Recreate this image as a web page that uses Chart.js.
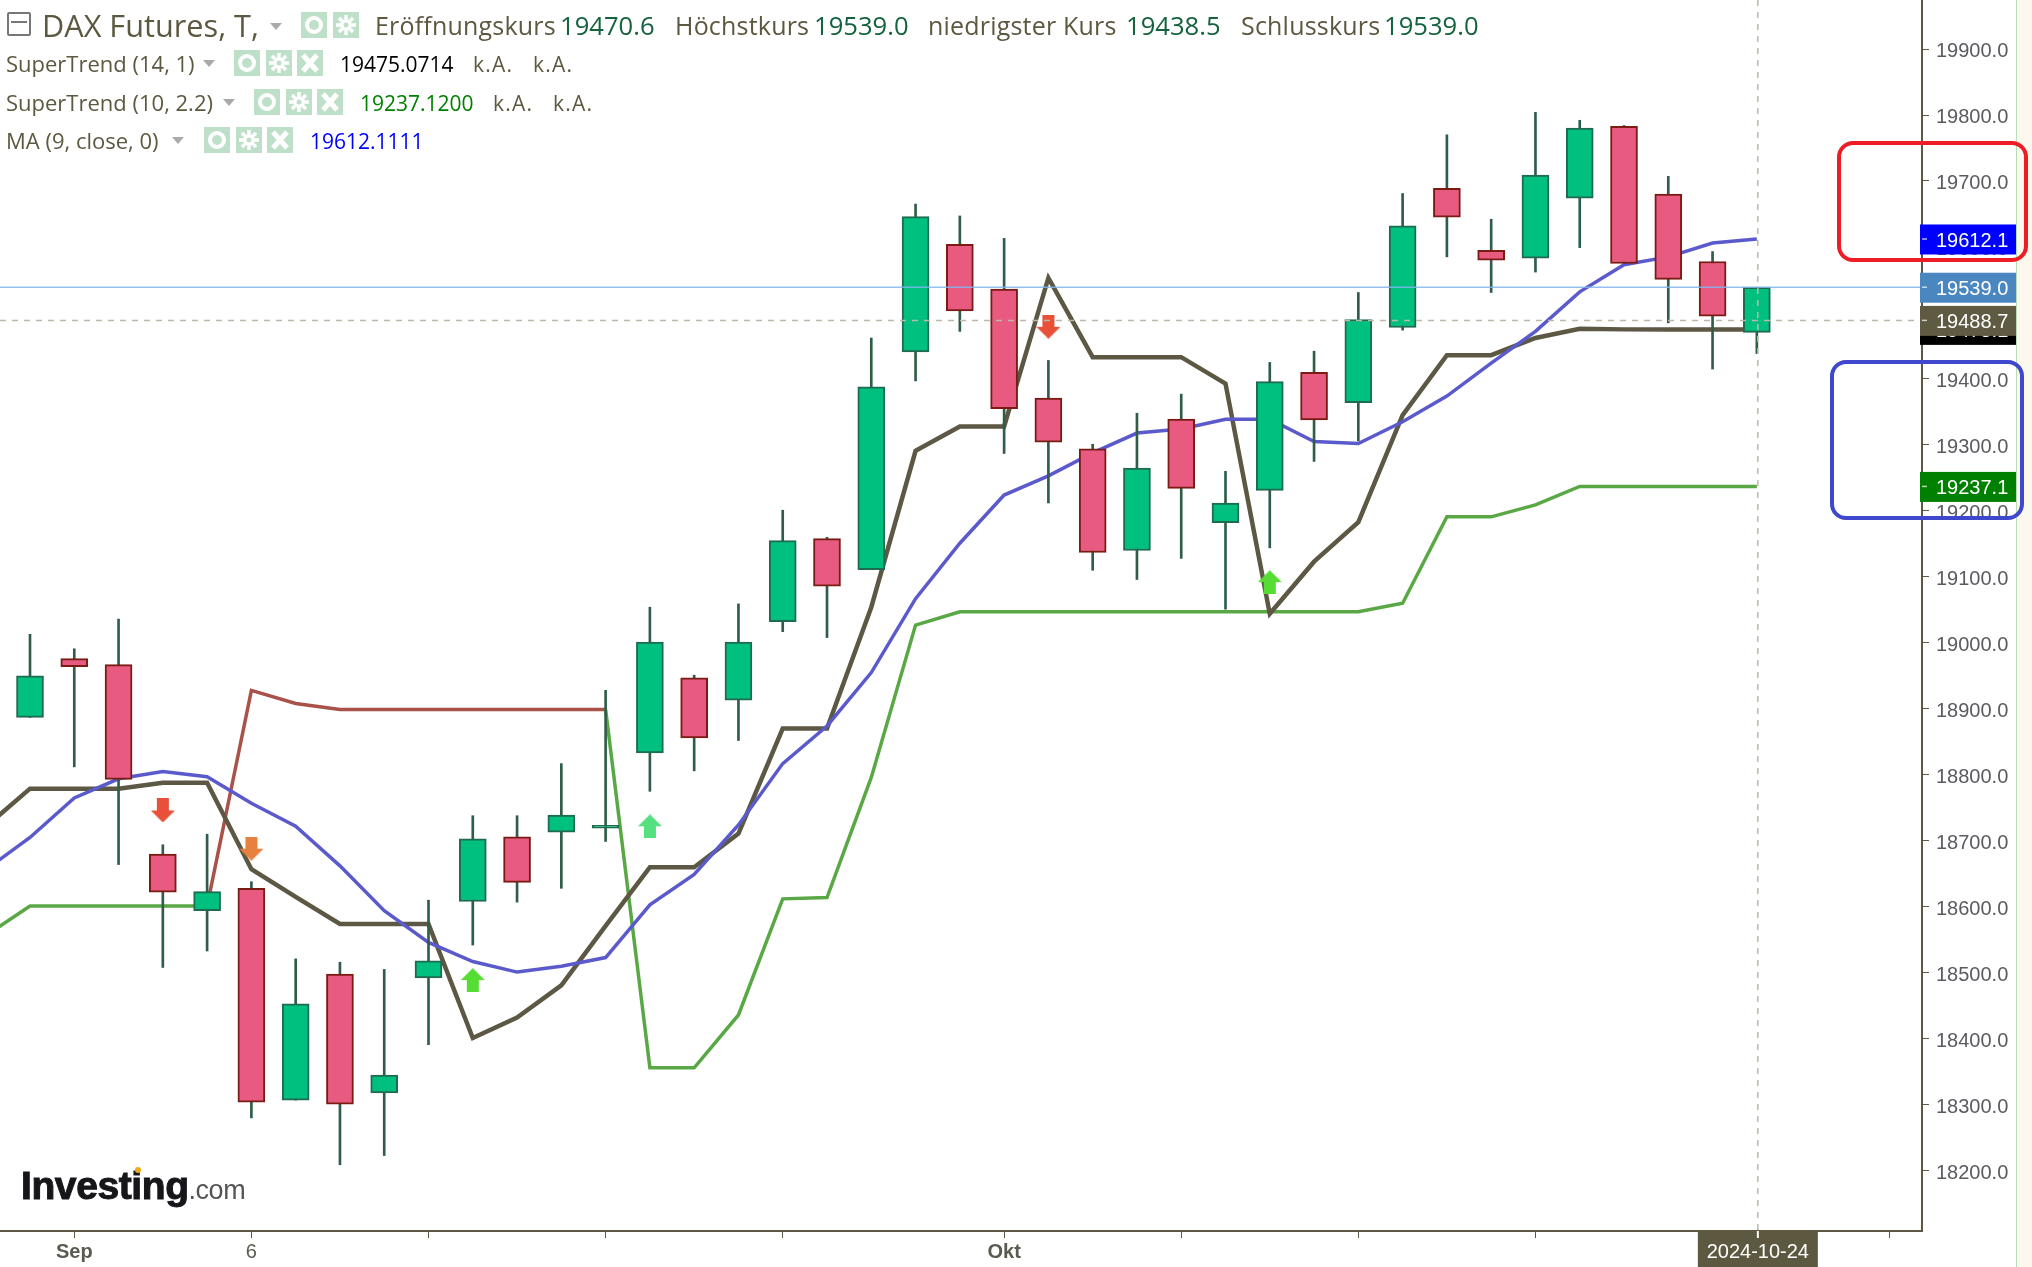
<!DOCTYPE html>
<html>
<head>
<meta charset="utf-8">
<title>DAX Futures</title>
<script src="https://cdn.jsdelivr.net/npm/chart.js@4"></script>
<style>
    html, body { margin: 0; padding: 0; background: #fff; overflow: hidden; }
    #wrap { position: relative; width: 2032px; height: 1267px; overflow: hidden; }
    canvas { position: absolute; left: 0; top: 0; }
    .t { position: absolute; white-space: nowrap; transform: translateY(-50%); font-family: "Open Sans", sans-serif; color: #5d5840; }
    .big { font-size: 25px; letter-spacing: 0.2px; }
    .val { font-size: 25.6px; letter-spacing: 0; color: #14633e; }
    .small { font-size: 22px; }
    .num { font-size: 21px; }
    .na { font-size: 21px; letter-spacing: 1.2px; }
    .arrow { position: absolute; width: 0; height: 0; border-left: 6px solid transparent; border-right: 6px solid transparent; border-top: 7px solid #aaa; }
    .icon { position: absolute; width: 26px; height: 26px; background: #bfe0c8; }
    .frame { position: absolute; border-style: solid; border-width: 4px; border-radius: 16px; box-sizing: border-box; }
</style>
</head>
<body>
<div id="wrap">
    <canvas id="chart" width="2032" height="1267"></canvas>

    <div style="position:absolute;left:2016px;top:0;width:16px;height:1267px;background:#fdf8ee;border-left:1px solid #b8dcb8;"></div>

    <div style="position:absolute;left:7px;top:12px;width:20px;height:20px;border:2px solid #777;border-radius:2px;"></div>
    <div style="position:absolute;left:11px;top:21px;width:16px;height:2px;background:#777;"></div>

    <span class="t" style="left:42px;top:25px;font-size:30.7px;">DAX Futures, T,</span>
    <div class="arrow" style="left:270px;top:23px;"></div>
    <span class="t big" style="left:375px;top:25px;">Eröffnungskurs</span>
    <span class="t val" style="left:560px;top:25px;">19470.6</span>
    <span class="t big" style="left:675px;top:25px;">Höchstkurs</span>
    <span class="t val" style="left:814px;top:25px;">19539.0</span>
    <span class="t big" style="left:928px;top:25px;">niedrigster Kurs</span>
    <span class="t val" style="left:1126px;top:25px;">19438.5</span>
    <span class="t big" style="left:1241px;top:25px;">Schlusskurs</span>
    <span class="t val" style="left:1384px;top:25px;">19539.0</span>

    <span class="t small" style="left:6px;top:63px;">SuperTrend (14, 1)</span>
    <div class="arrow" style="left:203px;top:60px;"></div>
    <span class="t num" style="left:340px;top:64px;color:#000;">19475.0714</span>
    <span class="t na" style="left:473px;top:64px;">k.A.</span>
    <span class="t na" style="left:533px;top:64px;">k.A.</span>

    <span class="t small" style="left:6px;top:102px;">SuperTrend (10, 2.2)</span>
    <div class="arrow" style="left:223px;top:99px;"></div>
    <span class="t num" style="left:360px;top:103px;color:#008000;">19237.1200</span>
    <span class="t na" style="left:493px;top:103px;">k.A.</span>
    <span class="t na" style="left:553px;top:103px;">k.A.</span>

    <span class="t small" style="left:6px;top:140px;">MA (9, close, 0)</span>
    <div class="arrow" style="left:172px;top:137px;"></div>
    <span class="t num" style="left:310px;top:141px;color:#0000ff;">19612.1111</span>

    <!-- Logo -->
    <span class="t" style="left:21px;top:1186px;font-family:'Liberation Sans',sans-serif;font-weight:bold;font-size:39px;letter-spacing:-0.4px;color:#15151a;-webkit-text-stroke:1px #15151a;">Investing<span style="font-weight:normal;font-size:27px;letter-spacing:-0.5px;color:#555;-webkit-text-stroke:0;">.com</span></span>
    <div style="position:absolute;left:135px;top:1167px;width:6px;height:6px;border-radius:3px;background:#f0a820;"></div>

    <!-- Hand-drawn markers on the screenshot -->
    <div class="frame" style="left:1837px;top:141px;width:191px;height:121px;border-color:#ee1c25;"></div>
    <div class="frame" style="left:1830px;top:360px;width:194px;height:160px;border-color:#3f48cc;"></div>
</div>

<script>
// Candles (index 0 is the first candle)
const opens  = [18887, 18976, 18967, 18680, 18594, 18628, 18307, 18498, 18318, 18492, 18608, 18706, 18713, 18719, 18833, 18947, 18913, 19032, 19158, 19111, 19441, 19604, 19536, 19371, 19294, 19140, 19339, 19182, 19231, 19410, 19364, 19478, 19689, 19595, 19583, 19674, 19783, 19680, 19578, 19470.6];
const highs  = [19013, 18991, 19036, 18694, 18710, 18638, 18521, 18516, 18505, 18610, 18738, 18738, 18817, 18928, 19054, 18951, 19059, 19201, 19160, 19462, 19665, 19647, 19613, 19428, 19301, 19348, 19377, 19260, 19425, 19442, 19531, 19681, 19770, 19642, 19804, 19792, 19784, 19707, 19593, 19539];
const lows   = [18887, 18812, 18664, 18508, 18533, 18280, 18307, 18209, 18223, 18391, 18542, 18607, 18628, 18699, 18775, 18806, 18852, 19017, 19008, 19111, 19397, 19472, 19287, 19212, 19110, 19096, 19128, 19051, 19144, 19275, 19306, 19474, 19585, 19531, 19562, 19599, 19575, 19485, 19415, 19438.5];
const closes = [18950, 18964, 18793, 18622, 18623, 18304, 18453, 18301, 18345, 18518, 18703, 18637, 18739, 18723.5, 19001, 18856, 19001, 19155, 19086, 19388, 19646, 19503, 19355, 19304, 19137, 19265, 19234, 19212, 19396, 19338, 19490, 19632, 19645, 19580, 19709, 19780, 19575, 19551, 19495, 19539];

// Indicator lines start one session before the first candle (index -1)
const superTrend14 = [18721, 18779, 18779, 18779, 18788, 18788, 18657, 18615, 18574, 18574, 18574, 18401, 18432, 18481, 18571, 18660, 18660, 18711, 18870, 18870, 19054, 19291, 19328, 19328, 19553, 19433, 19433, 19433, 19393, 19044, 19123, 19183, 19345, 19436, 19436, 19462, 19476, 19475.1, 19475.1, 19475.1, 19475.1];
const superTrend10Up = [18556, 18601, 18601, 18601, 18601, 18601, null, null, null, null, null, null, null, null, 18899, 18356, 18356, 18436, 18612, 18614, 18796, 19027, 19047, 19047, 19047, 19047, 19047, 19047, 19047, 19047, 19047, 19047, 19060, 19191, 19191, 19209, 19237.1, 19237.1, 19237.1, 19237.1, 19237.1];
const superTrend10Down = [null, null, null, null, null, 18601, 18928, 18908, 18899, 18899, 18899, 18899, 18899, 18899, 18899, null, null, null, null, null, null, null, null, null, null, null, null, null, null, null, null, null, null, null, null, null, null, null, null, null, null];
const movingAverage = [18656, 18705, 18765, 18794, 18805, 18797, 18757, 18722, 18662, 18594, 18546, 18517, 18501, 18510, 18523, 18603, 18649, 18724, 18817, 18874, 18955, 19067, 19151, 19224, 19253, 19288, 19318, 19324, 19339, 19339, 19305, 19302, 19335, 19374, 19424, 19472, 19532, 19573, 19585, 19606, 19612.1];

// Signal arrows
const arrowIndex = [3, 5, 10, 14, 23, 28];
const arrowPrice = [18746, 18688, 18489, 18722, 19479, 19092];
const arrowUp    = [false, false, true, true, false, true];
const arrowColor = ['#e8503a', '#e88040', '#55dd33', '#55e080', '#e85038', '#55dd33'];

// Axes
const xTickIndex  = [1, 5, 9, 13, 17, 22, 26, 30, 34, 38, 42];
const xTickLabels = ['Sep', '6', '', '', '', 'Okt', '', '', '', '', ''];
const yTicks = [18200, 18300, 18400, 18500, 18600, 18700, 18800, 18900, 19000, 19100, 19200, 19300, 19400, 19500, 19600, 19700, 19800, 19900];

// Price tags on the right axis, painted in this order
const tagValues = [19237.1, 19475.1, 19488.7, 19539.0, 19612.1];
const tagColors = ['#008000', '#000000', '#5f5a42', '#4a86c0', '#0000ff'];

const lastPrice = 19539.0;
const cursorPrice = 19488.7;
const cursorIndex = 39;
const cursorDate = '2024-10-24';

const AXIS_COLOR = '#5c5844';
const AXIS_FONT = '"Liberation Sans", Arial, sans-serif';

// Header icons (eye, gear, close)
const ICONS = {
    eye: '<circle cx="13" cy="13" r="7" fill="none" stroke="#fff" stroke-width="4"/>',
    gear: '<circle cx="13" cy="13" r="6" fill="#fff"/><circle cx="13" cy="13" r="2.5" fill="#bfe0c8"/><path d="M13 3v20M3 13h20M6 6l14 14M20 6L6 20" stroke="#fff" stroke-width="3.5" stroke-dasharray="4 12 4"/>',
    close: '<path d="M6 5l14 16M20 5L6 21" stroke="#fff" stroke-width="5"/>'
};

function addIcon(kind, left, top) {
    const box = document.createElement('div');
    box.className = 'icon';
    box.style.left = left + 'px';
    box.style.top = top + 'px';
    box.innerHTML = `<svg width="26" height="26" viewBox="0 0 26 26">${ICONS[kind]}</svg>`;
    document.getElementById('wrap').appendChild(box);
}

addIcon('eye', 301, 12);
addIcon('gear', 333, 12);
[[234, 50], [254, 89], [204, 127]].forEach(([left, top]) => {
    addIcon('eye', left, top);
    addIcon('gear', left + 32, top);
    addIcon('close', left + 63, top);
});

function makeArrow(color, up) {
    const c = document.createElement('canvas');
    c.width = 24;
    c.height = 24;
    const g = c.getContext('2d');
    if (up) {
        g.translate(0, 24);
        g.scale(1, -1);
    }
    g.fillStyle = color;
    g.beginPath();
    g.moveTo(6, 0);
    g.lineTo(18, 0);
    g.lineTo(18, 12);
    g.lineTo(24, 12);
    g.lineTo(12, 24);
    g.lineTo(0, 12);
    g.lineTo(6, 12);
    g.closePath();
    g.fill();
    return c;
}

const candleIdx = opens.map((_, i) => i);
const lineData = (values) => values.map((y, i) => ({ x: i - 1, y }));

function lineSet(values, color, width) {
    return {
        type: 'line',
        data: lineData(values),
        borderColor: color,
        borderWidth: width,
        pointRadius: 0,
        tension: 0,
        spanGaps: false,
        order: 3
    };
}

// Horizontal and vertical guides sit over the candles
const guidesPlugin = {
    id: 'guides',
    afterDatasetsDraw(chart) {
        const { ctx, chartArea, scales } = chart;
        const cursorX = scales.x.getPixelForValue(cursorIndex) + 1;
        ctx.save();

        ctx.strokeStyle = 'rgba(130,180,240,0.85)';
        ctx.lineWidth = 1.5;
        ctx.beginPath();
        ctx.moveTo(chartArea.left, scales.y.getPixelForValue(lastPrice));
        ctx.lineTo(chartArea.right, scales.y.getPixelForValue(lastPrice));
        ctx.stroke();

        ctx.strokeStyle = '#bdb9aa';
        ctx.lineWidth = 1.5;
        ctx.setLineDash([6, 6]);
        ctx.beginPath();
        ctx.moveTo(chartArea.left, scales.y.getPixelForValue(cursorPrice));
        ctx.lineTo(chartArea.right, scales.y.getPixelForValue(cursorPrice));
        ctx.moveTo(cursorX, chartArea.top);
        ctx.lineTo(cursorX, chartArea.bottom);
        ctx.stroke();

        ctx.restore();
    },
    afterDraw(chart) {
        const { ctx, chartArea, scales } = chart;
        ctx.save();
        ctx.font = '20px ' + AXIS_FONT;
        ctx.textBaseline = 'middle';

        tagValues.forEach((value, i) => {
            const y = scales.y.getPixelForValue(value);
            ctx.fillStyle = tagColors[i];
            ctx.fillRect(chartArea.right - 2, y - 14.5, 96, 30);
            ctx.fillStyle = 'rgba(255,255,255,0.7)';
            ctx.fillRect(chartArea.right, y - 0.75, 5, 1.5);
            ctx.fillStyle = '#fff';
            ctx.textAlign = 'left';
            ctx.fillText(value.toFixed(1), chartArea.right + 14, y + 2.5);
        });

        // Date flag under the cursor
        const x = scales.x.getPixelForValue(cursorIndex) + 1;
        ctx.fillStyle = '#5d5840';
        ctx.fillRect(x - 60, chartArea.bottom - 1, 120, 37);
        ctx.fillStyle = '#fff';
        ctx.fillRect(x - 1, chartArea.bottom, 2, 7);
        ctx.textAlign = 'center';
        ctx.fillText(cursorDate, x, chartArea.bottom + 21);
        ctx.restore();
    }
};

new Chart(document.getElementById('chart'), {
    data: {
        datasets: [
            {
                type: 'scatter',
                data: arrowIndex.map((x, i) => ({ x, y: arrowPrice[i] })),
                pointStyle: arrowIndex.map((_, i) => makeArrow(arrowColor[i], arrowUp[i])),
                order: 0
            },
            {
                type: 'bar',
                data: candleIdx.map(i => ({ x: i, y: [opens[i], closes[i]] })),
                backgroundColor: candleIdx.map(i => closes[i] >= opens[i] ? '#00c080' : '#e85a80'),
                borderColor: candleIdx.map(i => closes[i] >= opens[i] ? '#1e6b50' : '#7a1c14'),
                borderWidth: 2,
                borderSkipped: false,
                barThickness: 27,
                grouped: false,
                order: 1
            },
            {
                type: 'bar',
                data: candleIdx.map(i => ({ x: i, y: [lows[i], highs[i]] })),
                backgroundColor: '#2f5d48',
                barThickness: 2,
                grouped: false,
                order: 2
            },
            lineSet(movingAverage, '#5a5acc', 3.5),
            lineSet(superTrend14, AXIS_COLOR, 4.5),
            lineSet(superTrend10Up, '#5aa845', 3.5),
            lineSet(superTrend10Down, '#a8524a', 3.5)
        ]
    },
    plugins: [guidesPlugin],
    options: {
        responsive: false,
        animation: false,
        devicePixelRatio: 1,
        layout: { padding: 0, autoPadding: false },
        plugins: {
            legend: { display: false },
            tooltip: { enabled: false }
        },
        scales: {
            x: {
                type: 'linear',
                min: -0.6775,
                max: 42.73,
                offset: false,
                grid: { offset: false, drawOnChartArea: false, drawTicks: true, tickLength: 7, color: AXIS_COLOR },
                border: { color: AXIS_COLOR, width: 2 },
                afterBuildTicks: (scale) => { scale.ticks = xTickIndex.map(value => ({ value })); },
                afterFit: (scale) => {
                    scale.height = 36;
                    scale.paddingLeft = 0;
                    scale.paddingRight = 0;
                },
                ticks: {
                    autoSkip: false,
                    maxRotation: 0,
                    padding: 2,
                    color: '#5a5a50',
                    font: (ctx) => ({
                        family: AXIS_FONT,
                        size: 20,
                        weight: ctx.tick && ctx.tick.value === 5 ? 'normal' : 'bold'
                    }),
                    callback: (value) => xTickLabels[xTickIndex.indexOf(value)]
                }
            },
            y: {
                type: 'linear',
                position: 'right',
                min: 18108.6,
                max: 19974.3,
                grid: { offset: false, drawOnChartArea: false, drawTicks: true, tickLength: 7, color: AXIS_COLOR },
                border: { color: AXIS_COLOR, width: 2 },
                afterBuildTicks: (scale) => { scale.ticks = yTicks.map(value => ({ value })); },
                afterFit: (scale) => {
                    scale.width = 110;
                    scale.paddingTop = 0;
                    scale.paddingBottom = 0;
                },
                ticks: {
                    autoSkip: false,
                    padding: 7,
                    labelOffset: 2.5,
                    color: '#5a5a60',
                    font: { family: AXIS_FONT, size: 20 },
                    callback: (value) => value.toFixed(1)
                }
            }
        }
    }
});
</script>
</body>
</html>
